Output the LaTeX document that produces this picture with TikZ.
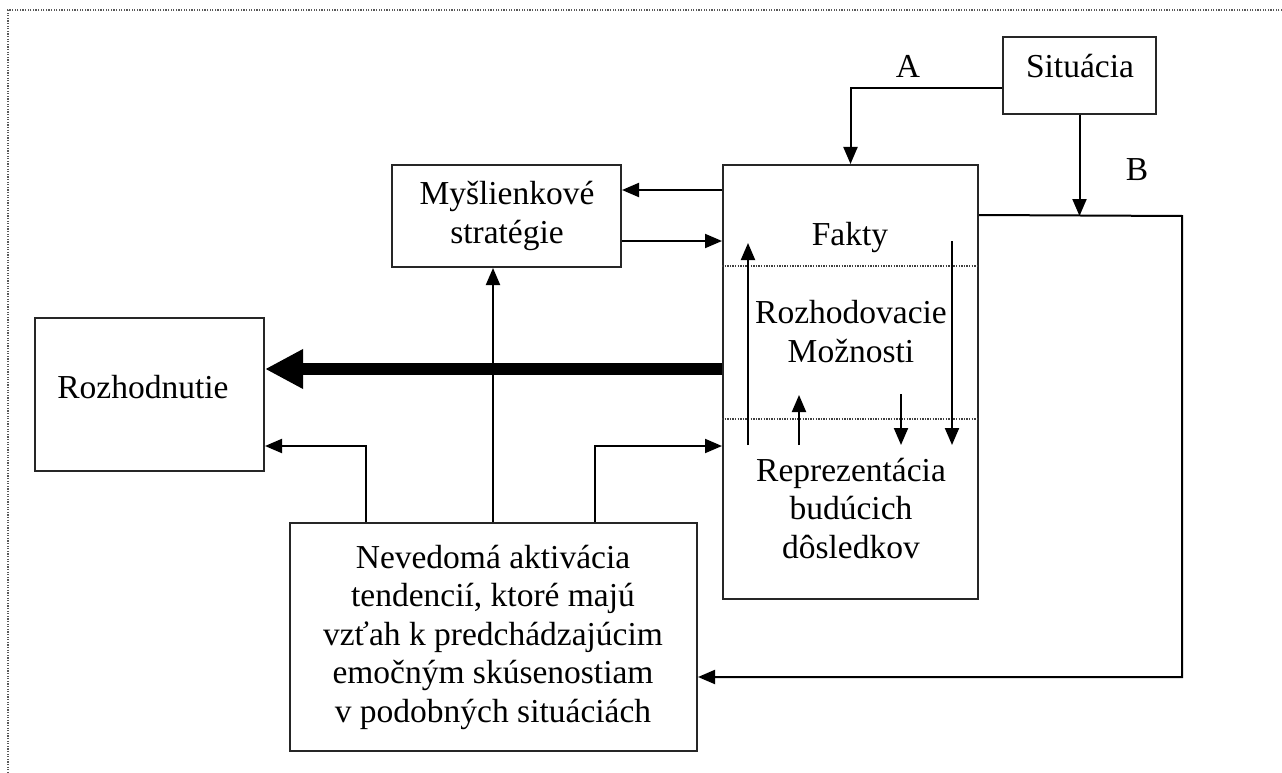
\documentclass[tikz,border=0pt]{standalone}
\usepackage{fontspec}
\setmainfont{Liberation Serif}
\usetikzlibrary{arrows.meta}
\begin{document}
\begin{tikzpicture}[x=1pt,y=-1pt,
  box/.style={draw=black!85, line width=2pt, inner sep=0pt},
  txt/.style={font=\fontsize{33.5}{38.5}\selectfont, align=center, inner sep=0pt, anchor=base},
  arr/.style={line width=2pt, -{Triangle[length=17pt,width=14pt]}},
  bigarr/.style={line width=12pt, -{Triangle[length=38pt,width=37pt]}},
  divider/.style={line width=1.5pt, dash pattern=on 1.3pt off 1.3pt, draw=black!75},
  framestyle/.style={line width=2pt, dash pattern=on 1.3pt off 1.3pt, draw=black!65}]
\useasboundingbox (0,0) rectangle (1282,773);
% page frame
\coordinate (ftl) at (8,10);
\coordinate (ftr) at (1282,10);
\coordinate (fbl) at (8,773);
\draw[framestyle] (ftr) -- (ftl) -- (fbl);

% boxes
\node[box, minimum width=153pt, minimum height=77pt] (sitbox) at (1079.5,75.5) {};
\node[box, minimum width=255pt, minimum height=434pt] (mainbox) at (850.5,382) {};
\node[box, minimum width=229pt, minimum height=102pt] (myslbox) at (506.5,216) {};
\node[box, minimum width=229pt, minimum height=153pt] (rozbox) at (149.5,394.5) {};
\node[box, minimum width=407pt, minimum height=228pt] (botbox) at (493.5,637) {};

% texts (anchor=base is the baseline of the last line)
\node[txt] (sittxt) at (1080,78) {Situácia};
\node[txt] (atxt) at (908,78) {A};
\node[txt] (btxt) at (1137,180) {B};
\node[txt] (fakty) at (850,245) {Fakty};
\node[txt] (moznosti) at (851,362) {Rozhodovacie\\Možnosti};
\node[txt] (repr) at (851,558) {Reprezentácia\\budúcich\\dôsledkov};
\node[txt] (mysltxt) at (507,243) {Myšlienkové\\stratégie};
\node[txt] (roztxt) at (143,398) {Rozhodnutie};
\node[txt] (bottxt) at (493,722) {Nevedomá aktivácia\\tendencií, ktoré majú\\vzťah k predchádzajúcim\\emočným skúsenostiam\\v podobných situáciách};

% dividers in main box
\coordinate (d1) at ([yshift=-102pt]mainbox.north west);
\coordinate (d2) at ([yshift=-255pt]mainbox.north west);
\draw[divider] (d1) -- (mainbox.east |- d1);
\draw[divider] (d2) -- (mainbox.east |- d2);

% A and B from Situacia
\draw[arr] ([yshift=-12.5pt]sitbox.west) -| (mainbox.north);
\coordinate (fbcorner) at (1182,216);
\draw[arr] (sitbox.south) -- (sitbox.south |- fbcorner);
\draw[arr] ([yshift=-51pt]mainbox.north east) -- (fbcorner) |- ([yshift=-40pt]botbox.east);

% Myslienkove strategie
\coordinate (p1) at ([yshift=-26pt]mainbox.north west);
\draw[arr] (p1) -- (myslbox.east |- p1);
\coordinate (p2) at ([yshift=-25pt]myslbox.east);
\draw[arr] (p2) -- (mainbox.west |- p2);

% thick arrow to Rozhodnutie
\coordinate (p3) at ([yshift=13pt]mainbox.west);
\draw[bigarr] (p3) -- (rozbox.east |- p3);

% from bottom box
\draw[arr] ([xshift=-127.5pt]botbox.north) |- ([yshift=-51.5pt]rozbox.east);
\draw[arr] ([xshift=-0.5pt]botbox.north) -- ([xshift=-0.5pt]botbox.north |- myslbox.south);
\draw[arr] ([xshift=101.5pt]botbox.north) |- ([yshift=-64pt]mainbox.west);

% internal arrows
\coordinate (ua1s) at (748,445);
\coordinate (ua1e) at (748,243);
\coordinate (ua2s) at (799,445);
\coordinate (ua2e) at (799,395);
\coordinate (da1s) at (901,394);
\coordinate (da1e) at (901,445);
\coordinate (da2s) at (952,241);
\coordinate (da2e) at (952,445);
\draw[arr] (ua1s) -- (ua1e);
\draw[arr] (ua2s) -- (ua2e);
\draw[arr] (da1s) -- (da1e);
\draw[arr] (da2s) -- (da2e);
\end{tikzpicture}
\end{document}
